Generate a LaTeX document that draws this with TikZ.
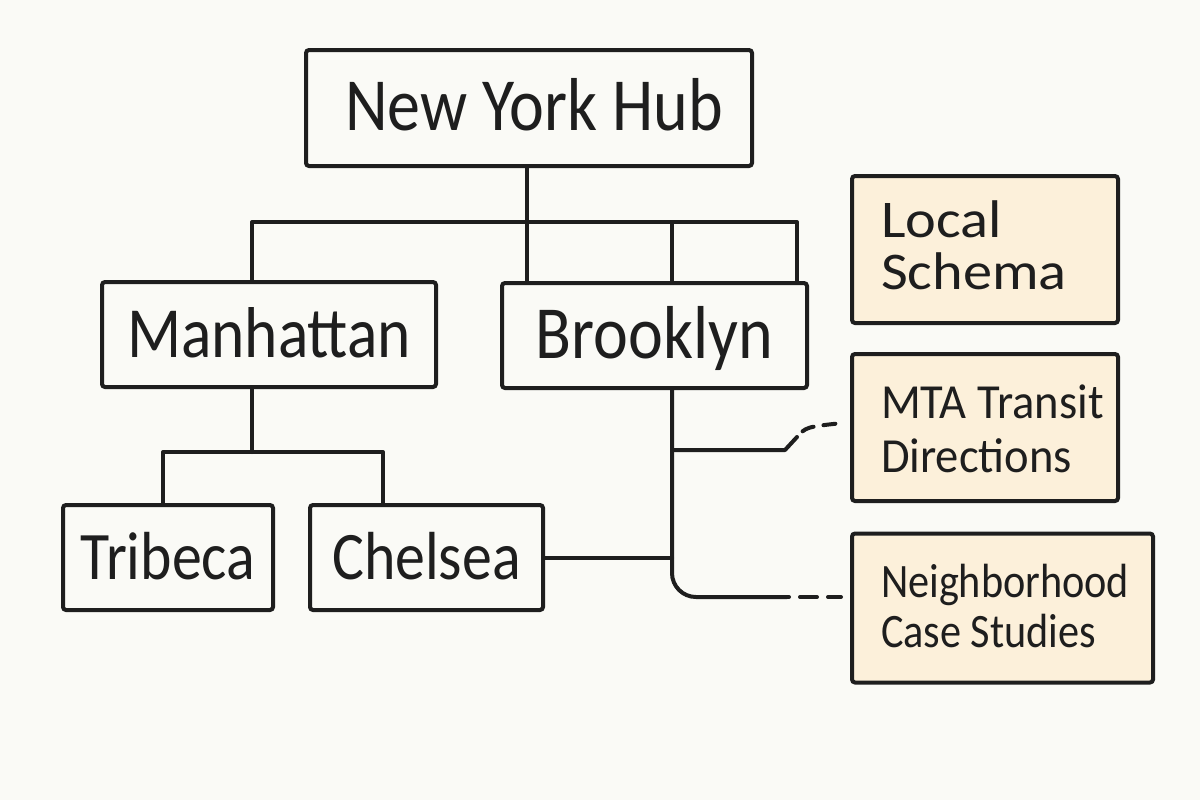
\documentclass[tikz,border=0pt]{standalone}
\usepackage{fontspec}
\setmainfont{Carlito}[FakeStretch=0.88]
\newfontfamily\widehand{Carlito}[FakeStretch=1.1]
\newfontfamily\midhand{Carlito}[FakeStretch=0.95]
\definecolor{bgc}{HTML}{FAFAF6}
\definecolor{ink}{HTML}{1E1E1E}
\definecolor{peach}{HTML}{FCF0DA}
\newcommand\sidetext[2]{\makebox[#1][l]{\hspace*{14.5pt}\begin{tabular}[t]{@{}l@{}}#2\end{tabular}}}
\begin{document}
\begin{tikzpicture}[x=0.5pt,y=-0.5pt,
  box/.style={draw=ink, line width=2pt, rounded corners=1.5pt, inner sep=0pt, text=ink},
  bigtext/.style={font=\fontsize{36}{40}\selectfont, text height=22.5pt, text depth=0pt},
  midtext/.style={font=\fontsize{34}{38}\selectfont, text height=21.5pt, text depth=0pt},
  sidebox/.style={box, fill=peach, text height=0pt},
  link/.style={draw=ink, line width=2pt, line cap=round, line join=round},
  dlink/.style={link, dash pattern=on 8.5pt off 5.5pt}
]
\useasboundingbox[fill=bgc] (0,0) rectangle (1200,800);

% nodes
\node[box, bigtext, font=\fontsize{37.5}{40}\selectfont, minimum width=223pt, minimum height=58pt] (hub) at (529,108) {\hspace{5pt}New York Hub};
\node[box, bigtext, minimum width=167pt, minimum height=52.5pt] (man) at (269,334.5) {Manhattan};
\node[box, bigtext, font=\fontsize{37.5}{40}\selectfont, minimum width=152.5pt, minimum height=52.5pt] (bro) at (654.5,335.5) {Brooklyn};
\node[box, midtext, minimum width=105pt, minimum height=52.5pt] (tri) at (168,557.5) {Tribeca};
\node[box, midtext, minimum width=116.5pt, minimum height=52.5pt] (che) at (426.5,557.5) {Chelsea};
\node[sidebox, text depth=12.5pt, minimum width=133pt, minimum height=73.5pt,
  font=\widehand\fontsize{26.5}{25.5}\selectfont] (loc) at (985,249.5) {\sidetext{133pt}{Local\\Schema}};
\node[sidebox, text depth=9.5pt, minimum width=133pt, minimum height=73.5pt,
  font=\midhand\fontsize{24.5}{27}\selectfont] (mta) at (985,427.5) {\sidetext{133pt}{MTA Transit\\Directions}};
\node[sidebox, text depth=11pt, minimum width=150.5pt, minimum height=74.5pt,
  font=\fontsize{24}{25}\selectfont] (nei) at (1002.5,608) {\sidetext{150.5pt}{Neighborhood\\Case Studies}};

% junction coordinates
\coordinate (jl) at (252,222);
\coordinate (jr) at (797,222);
\coordinate (jh) at (527,222);
\coordinate (jk) at (672,222);
\coordinate (ml) at (163,452);
\coordinate (mr) at (383,452);
\coordinate (mc) at (252,452);
\coordinate (bx) at (672,450);
\coordinate (bb) at (672,597);
\coordinate (u1) at (785,450);
\coordinate (u2) at (797,437);
\coordinate (u3) at (842,423);
\coordinate (d1) at (787,597);
\coordinate (d2) at (841,597);

% hub tree
\draw[link] (hub.south -| jh) -- (bro.north -| jh);
\draw[link] (man.north -| jl) -- (jl) -- (jr) -- (bro.north -| jr);
\draw[link] (jk) -- (bro.north -| jk);

% manhattan tree
\draw[link] (man.south -| mc) -- (mc);
\draw[link] (tri.north -| ml) -- (ml) -- (mr) -- (che.north -| mr);

% brooklyn tree
\draw[link, rounded corners=12pt] (bro.south -| bb) -- (bb) -- (d1);
\draw[dlink, dash phase=-6.5pt] (d1) -- (d2);
\draw[link] (bx) -- (u1) -- (u2);
\draw[dlink, dash pattern=on 6pt off 5pt, dash phase=-4pt] (u2) .. controls (806,427) .. (u3);
\draw[link] (che.east) -- (che.east -| bb);
\end{tikzpicture}
\end{document}
